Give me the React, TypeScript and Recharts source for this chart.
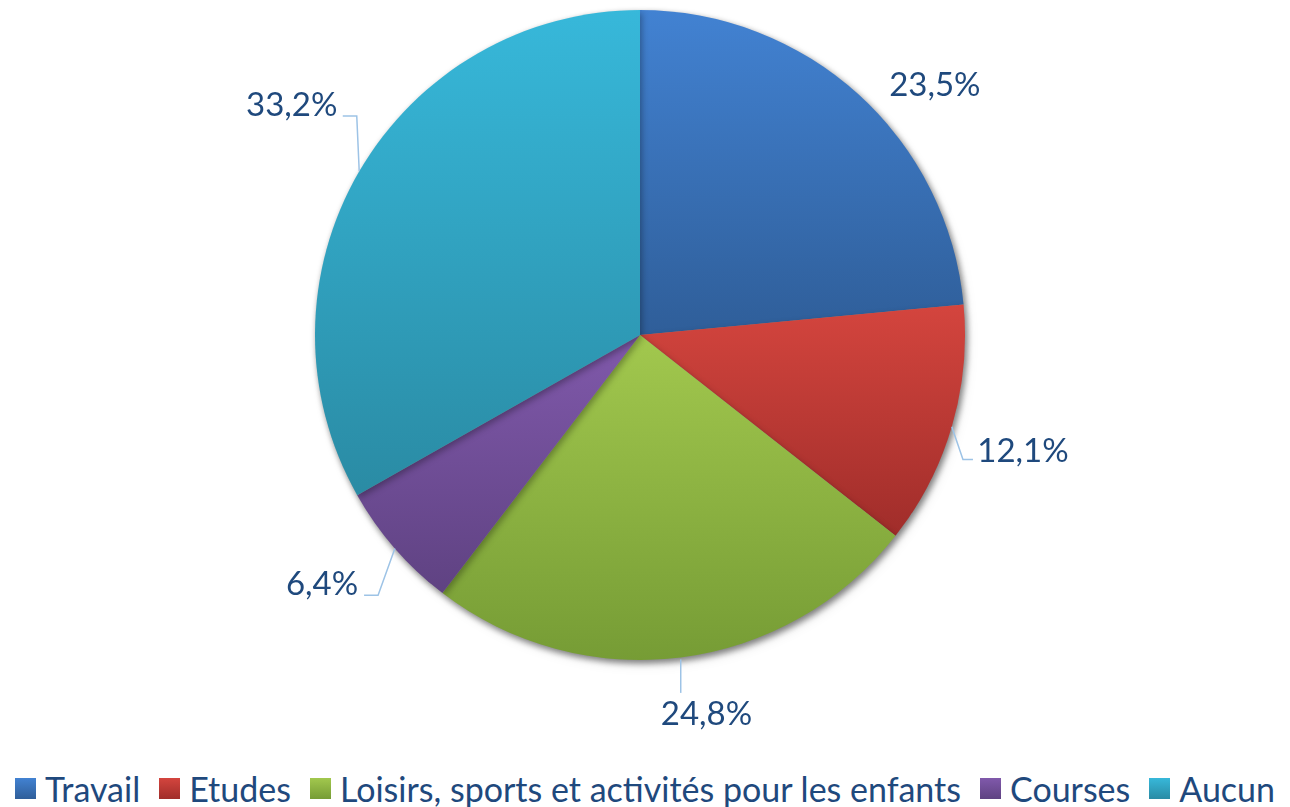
import { PieChart, Pie, Cell, Legend } from "recharts";

const categories = [
  "Travail",
  "Etudes",
  "Loisirs, sports et activités pour les enfants",
  "Courses",
  "Aucun",
];
const shares = [23.5, 12.1, 24.8, 6.4, 33.2];

const topColors = ["#4282D2", "#D4453E", "#A2C84E", "#8059AB", "#37B8DA"];
const bottomColors = ["#2F5E99", "#A02D2A", "#769C35", "#5F4282", "#2A8BA4"];

// label placement tweaks (px) around the mid-angle position, Excel "best fit" style
const labelNudge = [
  [29, 40],
  [4, 3],
  [17, -15],
  [-20, -12],
  [-7, -33],
];
const hasLeader = [false, true, true, true, true];

const data = categories.map((name, i) => ({ name, value: shares[i] }));

const RAD = Math.PI / 180;
const FONT = "Lato, 'Open Sans', sans-serif";
const TEXT = "#1F497D";
const LEADER = "#9DC3E6";

const fmt = (v: number) => v.toFixed(1).replace(".", ",") + "%";

const renderLabel = (props: any) => {
  const { cx, cy, midAngle, outerRadius, index, value } = props;
  const cos = Math.cos(-midAngle * RAD);
  const sin = Math.sin(-midAngle * RAD);
  const lx = cx + 395 * cos + labelNudge[index][0];
  const ly = cy + 395 * sin + labelNudge[index][1];
  const ex = cx + outerRadius * cos;
  const ey = cy + outerRadius * sin;
  const text = fmt(value);
  const w = text.length * 18;
  const h = 30;

  let points = "";
  if (hasLeader[index]) {
    if (ly - h / 2 > ey && Math.abs(lx - ex) < w / 2) {
      points = `${ex},${ey + 2} ${ex},${ly - h / 2 - 4}`;
    } else if (lx < ex) {
      const endX = lx + w / 2 + 6;
      const y = ly + 13;
      points = `${ex},${ey} ${endX + 14},${y} ${endX},${y}`;
    } else {
      const endX = lx - w / 2 - 5;
      const y = ly + 10;
      points = `${ex},${ey} ${endX - 10},${y} ${endX},${y}`;
    }
  }

  return (
    <g>
      {points && (
        <polyline points={points} fill="none" stroke={LEADER} strokeWidth={1.5} />
      )}
      <text
        x={lx}
        y={ly}
        textAnchor="middle"
        dominantBaseline="central"
        fill={TEXT}
        fontSize={33}
        fontFamily={FONT}
      >
        {text}
      </text>
    </g>
  );
};

const renderLegend = () => (
  <div
    style={{
      display: "flex",
      justifyContent: "center",
      alignItems: "center",
      fontFamily: FONT,
      fontSize: 34,
      color: TEXT,
      whiteSpace: "nowrap",
    }}
  >
    {categories.map((name, i) => (
      <div
        key={name}
        style={{ display: "flex", alignItems: "center", marginRight: i < categories.length - 1 ? 19 : 0 }}
      >
        <span
          style={{
            width: 21,
            height: 21,
            marginRight: 9,
            display: "inline-block",
            background: `linear-gradient(${topColors[i]}, ${bottomColors[i]})`,
          }}
        />
        <span>{name}</span>
      </div>
    ))}
  </div>
);

export default function App() {
  return (
    <div style={{ position: "absolute", left: 0, top: 0, width: 1290, height: 807, background: "#fff" }}>
      <style>{`.pie-main { filter: drop-shadow(2px 3px 3px rgba(0,0,0,0.3)); }`}</style>
      <PieChart width={1290} height={807} margin={{ top: 0, right: 0, bottom: 0, left: 0 }}>
        <defs>
          {categories.map((_, i) => (
            <linearGradient key={i} id={`slice-${i}`} x1="0" y1="0" x2="0" y2="1">
              <stop offset="0%" stopColor={topColors[i]} />
              <stop offset="100%" stopColor={bottomColors[i]} />
            </linearGradient>
          ))}
        </defs>
        <Pie
          className="pie-main"
          data={data}
          dataKey="value"
          nameKey="name"
          cx={640}
          cy={335}
          outerRadius={325}
          startAngle={90}
          endAngle={-270}
          stroke="none"
          labelLine={false}
          isAnimationActive={false}
        >
          {data.map((_, i) => (
            <Cell key={i} fill={`url(#slice-${i})`} />
          ))}
        </Pie>
        <Pie
          data={data}
          dataKey="value"
          nameKey="name"
          cx={640}
          cy={335}
          outerRadius={325}
          startAngle={90}
          endAngle={-270}
          fill="none"
          stroke="none"
          label={renderLabel}
          labelLine={false}
          isAnimationActive={false}
        />
        <Legend
          verticalAlign="bottom"
          content={renderLegend}
          wrapperStyle={{ left: 0, top: 768, width: 1290, height: 42 }}
        />
      </PieChart>
    </div>
  );
}
